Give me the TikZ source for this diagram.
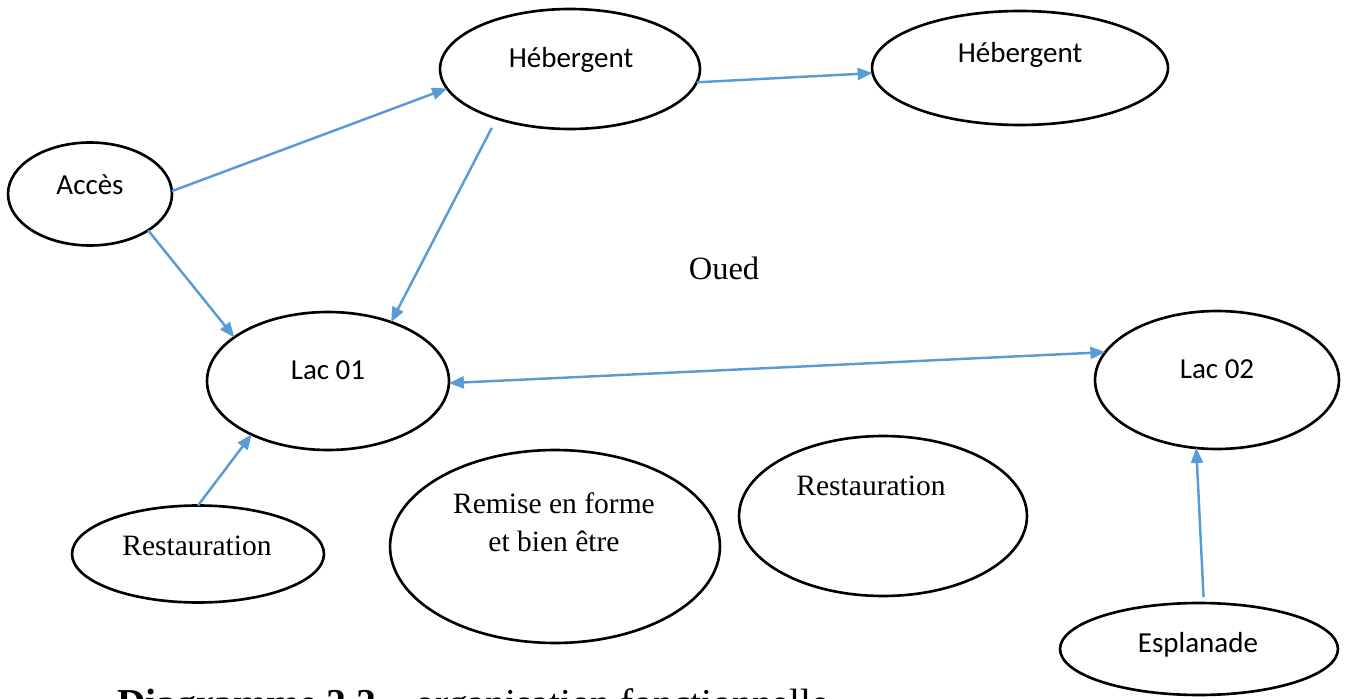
\documentclass[tikz,border=0pt]{standalone}
\usepackage{fontspec}
\setmainfont{Liberation Serif}
\newfontfamily\calibri{Carlito}
\usetikzlibrary{shapes.geometric,arrows.meta}
\definecolor{linkblue}{HTML}{5B9BD5}
\begin{document}
\begin{tikzpicture}[x=0.02cm,y=-0.02cm,
  >={Triangle[length=0.3cm,width=0.24cm]},
  zone/.style={draw,ellipse,line width=1.5pt,inner sep=0pt,outer sep=0pt},
  cal/.style={font=\calibri\fontsize{16.5}{20}\selectfont},
  tnr/.style={font=\fontsize{16.8}{21.5}\selectfont},
  link/.style={draw=linkblue,line width=1.4pt,->}]
\useasboundingbox (0,0) rectangle (1352,699);
\foreach \n/\x/\y/\w/\h in {acces/90/194/3.28/2.06, heb1/570/69/5.2/2.4,
    heb2/1020/68/5.92/2.28, lac1/328/381/4.84/2.76, lac2/1217/380/4.88/2.76,
    resto1/198/554/5.04/1.94, remise/555/546.5/6.6/3.86,
    resto2/883/516/5.76/3.2, esp/1199/649/5.56/1.84}{
    \node[zone, minimum width=\w cm, minimum height=\h cm] (\n) at (\x,\y) {};
}
\node[cal] (t-acces) at (90,185) {Accès};
\node[cal] (t-heb1) at (571,60) {Hébergent};
\node[cal] (t-heb2) at (1020,55) {Hébergent};
\node[cal] (t-lac1) at (328,370) {Lac 01};
\node[cal] (t-lac2) at (1217,369) {Lac 02};
\node[cal] (t-esp) at (1198,645) {Esplanade};
\node[tnr] (t-resto1) at (197,546) {Restauration};
\node[tnr] (t-resto2) at (871,486) {Restauration};
\node[tnr, align=center] (t-remise) at (554,522) {Remise en forme\\et bien être};
\node[font=\fontsize{18.5}{22}\selectfont] (t-oued) at (724,268) {Oued};
\node[anchor=base west, font=\fontsize{22.5}{27}\selectfont] (caption) at (111,716)
    {\textbf{Diagramme 2.2} – organisation fonctionnelle};

\draw[link] (acces.2) -- (heb1.189);
\draw[link] (acces.-32) -- (lac1.155);
\draw[link, shorten <=0.21cm] (heb1.214) -- (lac1.43);
\draw[link] (heb1.-6) -- (heb2.182);
\draw[link, <->] (lac1.-1) -- (lac2.166);
\draw[link] (resto1.90) -- (lac1.215);
\draw[link, shorten <=0.12cm] (esp.84) -- (lac2.253);
\end{tikzpicture}
\end{document}
